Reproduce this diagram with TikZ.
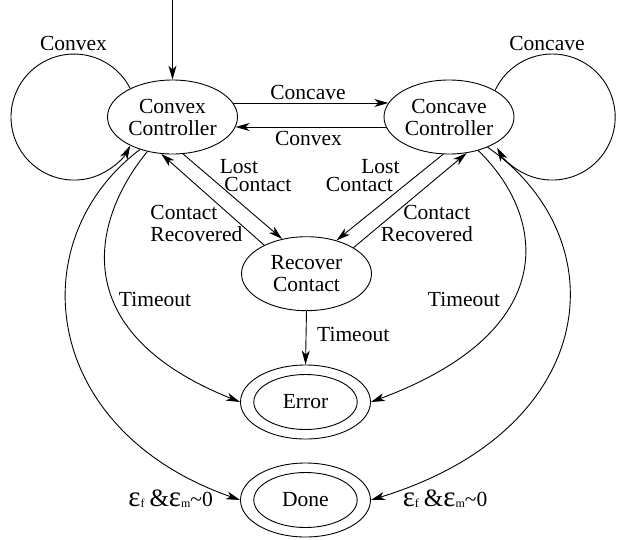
\documentclass[tikz,border=0pt]{standalone}
\usepackage{fontspec}
\setmainfont{Liberation Serif}
\usetikzlibrary{shapes.geometric,arrows.meta}
\begin{document}
\begin{tikzpicture}[x=1pt,y=-1pt,line width=0.9pt,
  >={Stealth[length=14pt,width=8pt,inset=4pt]},
  txt/.style={font=\fontsize{21.5}{22}\selectfont},
  state/.style={txt,draw,ellipse,inner sep=0pt,minimum width=130pt,minimum height=74pt,align=center},
  lbl/.style={txt,inner sep=0pt},
  tight/.style={font=\fontsize{21.5}{18.6}\selectfont},
]
\useasboundingbox (0,0) rectangle (624,539);
% states
\node[state] (cc) at (172.5,117) {Convex\\Controller};
\node[state] (kc) at (449,117) {Concave\\Controller};
\node[state] (rc) at (306.5,273.7) {Recover\\Contact};
\node[state] (err) at (305.5,402) {Error};
\node[state] (dn) at (305.5,500) {Done};
\draw (err.center) ellipse[x radius=51.7, y radius=27.5];
\draw (dn.center) ellipse[x radius=51.7, y radius=27.5];
% initial
\coordinate (init) at (172.5,0);
\draw[->] (init) -- (cc.north);
% self loops
\draw[->] (cc.146) arc[start angle=-27, end angle=-333, radius=63];
\draw[->] (kc.30) arc[start angle=-155, end angle=151, radius=63];
\node[lbl,anchor=base] (lcvx) at (73.5,50) {Convex};
\node[lbl,anchor=base] (lccv) at (547,50) {Concave};
% between controllers
\draw[->] (cc.13) -- (kc.167);
\draw[->] (kc.189) -- (cc.-9);
\node[lbl,anchor=base] (tccv) at (308,99) {Concave};
\node[lbl,anchor=base] (tcvx) at (308.5,145) {Convex};
% recover
\draw[->] (cc.-74) -- (rc.125);
\draw[->] (rc.146) -- (cc.-107);
\draw[->] (kc.-99) -- (rc.48);
\draw[->] (rc.29) -- (kc.-64);
\node[lbl,tight,align=left,anchor=north west] (llost) at (224,158.5) {\hspace*{-4.7pt}Lost\\Contact};
\node[lbl,tight,align=right,anchor=north east] (rlost) at (400,158.5) {Lost\\Contact\hspace*{6.7pt}};
\node[lbl,align=left,anchor=north west] (lrec) at (150,204.7) {Contact\\Recovered};
\node[lbl,align=right,anchor=north east] (rrec) at (473.3,204.7) {Contact\hspace*{2.6pt}\\Recovered};
% timeouts
\draw[->] (rc.south) -- (err.north);
\node[lbl,anchor=base west] (tmid) at (316.7,341.7) {Timeout};
\draw[->] (cc.-126) .. controls (95,215) and (60,330) .. (err.west);
\draw[->] (kc.-49) .. controls (545,215) and (565,330) .. (err.east);
\node[lbl,anchor=base] (tl) at (155,306.7) {Timeout};
\node[lbl,anchor=base] (tr) at (464,306.7) {Timeout};
% done
\draw[->] (cc.-135) .. controls (20,240) and (40,430) .. (dn.west);
\draw[->] (kc.-38) .. controls (620,240) and (600,430) .. (dn.east);
\node[lbl,anchor=base east] (el) at (213.3,506) {{\fontsize{29}{29}\selectfont ε}\raisebox{-1pt}{\fontsize{12}{12}\selectfont f}\hspace{5pt}{\fontsize{25}{25}\selectfont\&}{\fontsize{29}{29}\selectfont ε}\raisebox{-1pt}{\fontsize{12}{12}\selectfont m}\textasciitilde 0};
\node[lbl,anchor=base west] (er) at (402.3,506) {{\fontsize{29}{29}\selectfont ε}\raisebox{-1pt}{\fontsize{12}{12}\selectfont f}\hspace{5pt}{\fontsize{25}{25}\selectfont\&}{\fontsize{29}{29}\selectfont ε}\raisebox{-1pt}{\fontsize{12}{12}\selectfont m}\textasciitilde 0};
\end{tikzpicture}
\end{document}
